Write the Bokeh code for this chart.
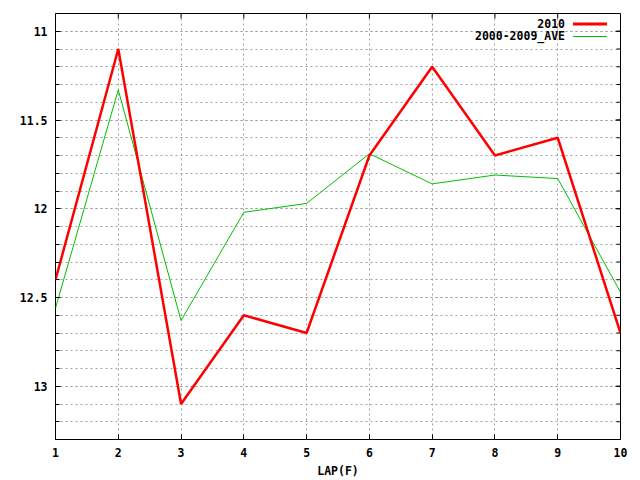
from bokeh.plotting import figure
from bokeh.models import Range1d, FixedTicker, LinearAxis, Label, BoxAnnotation
from bokeh.embed import file_html
from bokeh.resources import INLINE

laps = [1, 2, 3, 4, 5, 6, 7, 8, 9, 10]
y2010 = [12.4, 11.1, 13.1, 12.6, 12.7, 11.7, 11.2, 11.7, 11.6, 12.7]
yave = [12.56, 11.33, 12.63, 12.02, 11.97, 11.69, 11.86, 11.81, 11.83, 12.47]
y_major = [11, 11.5, 12, 12.5, 13]
y_major_labels = ["11", "11.5", "12", "12.5", "13"]
y_minor = [10.9, 11.0, 11.1, 11.2, 11.3, 11.4, 11.5, 11.6, 11.7, 11.8, 11.9, 12.0,
           12.1, 12.2, 12.3, 12.4, 12.5, 12.6, 12.7, 12.8, 12.9, 13.0, 13.1, 13.2, 13.3]
x_label = "LAP(F)"
series_names = ["2010", "2000-2009_AVE"]

FONT = "DejaVu Sans Mono"
FS = "11.5px"
RED = "#ff0000"
GREEN = "#00c000"
GRID = "#a0a0a0"

Y_TOP, Y_BOT = 10.9, 13.3
X_LO, X_HI = 1, 10
W, H = 640, 480
BL, BR, BT, BB = 55, 20, 13, 40

p = figure(width=W, height=H, output_backend="svg", toolbar_location=None,
           x_range=Range1d(X_LO, X_HI), y_range=Range1d(Y_BOT, Y_TOP),
           min_border_left=BL, min_border_right=BR, min_border_top=BT, min_border_bottom=BB,
           x_axis_location=None, y_axis_location=None)
p.background_fill_color = "white"
p.border_fill_color = "white"
p.outline_line_color = "black"
p.outline_line_width = 1

xt = FixedTicker(ticks=laps)
yt = FixedTicker(ticks=y_major, minor_ticks=y_minor)

def style_axis(ax):
    ax.axis_line_color = None
    ax.major_tick_in = 5
    ax.major_tick_out = 0
    ax.minor_tick_in = 4
    ax.minor_tick_out = 0
    ax.major_tick_line_color = "black"
    ax.minor_tick_line_color = "black"
    ax.major_label_text_font = FONT
    ax.major_label_text_font_style = "bold"
    ax.major_label_text_font_size = FS
    ax.major_label_text_color = "black"

xb = LinearAxis(ticker=xt, axis_label=x_label)
style_axis(xb)
xb.major_label_standoff = 8
xb.axis_label_standoff = 4
xb.axis_label_text_font = FONT
xb.axis_label_text_font_style = "bold"
xb.axis_label_text_font_size = FS
xb.axis_label_text_color = "black"
p.add_layout(xb, "below")

yl = LinearAxis(ticker=yt, major_label_overrides={v: s for v, s in zip(y_major, y_major_labels)})
style_axis(yl)
yl.major_label_standoff = 8
p.add_layout(yl, "left")

# mirror ticks on the top and right borders (gnuplot style)
px_x = (X_HI - X_LO) / (W - BL - BR)
px_y = (Y_BOT - Y_TOP) / (H - BT - BB)
p.segment(x0=laps, y0=[Y_TOP] * len(laps), x1=laps, y1=[Y_TOP + 5 * px_y] * len(laps),
          line_color="black", line_width=1)
p.segment(x0=[X_HI] * len(y_major), y0=y_major, x1=[X_HI - 5 * px_x] * len(y_major), y1=y_major,
          line_color="black", line_width=1)
p.segment(x0=[X_HI] * len(y_minor), y0=y_minor, x1=[X_HI - 4 * px_x] * len(y_minor), y1=y_minor,
          line_color="black", line_width=1)

p.xgrid.ticker = xt
p.ygrid.ticker = yt
for g in (p.xgrid, p.ygrid):
    g.grid_line_color = GRID
    g.grid_line_dash = "2 3"
    g.grid_line_width = 1
p.ygrid.minor_grid_line_color = GRID
p.ygrid.minor_grid_line_dash = "2 3"

p.line(laps, yave, line_color=GREEN, line_width=1)
p.line(laps, y2010, line_color=RED, line_width=2.5)

# legend (gnuplot style: right-aligned text then sample line)
leg_y = [Y_TOP + 10.5 * px_y, Y_TOP + 23 * px_y]
for name, col, w, ty in zip(series_names, [RED, GREEN], [3, 1], leg_y):
    p.add_layout(Label(x=X_LO + 509.5 * px_x, y=ty, text=name, text_align="right",
                       text_baseline="middle", text_font=FONT, text_font_style="bold",
                       text_font_size=FS, text_color="black"))
    p.add_layout(BoxAnnotation(left=X_LO + 517.5 * px_x, right=X_LO + 551.5 * px_x,
                               top=ty - w * 0.5 * px_y, bottom=ty + w * 0.5 * px_y,
                               fill_color=col, fill_alpha=1, line_color=None))

open("out.html", "w").write(file_html(p, INLINE))
